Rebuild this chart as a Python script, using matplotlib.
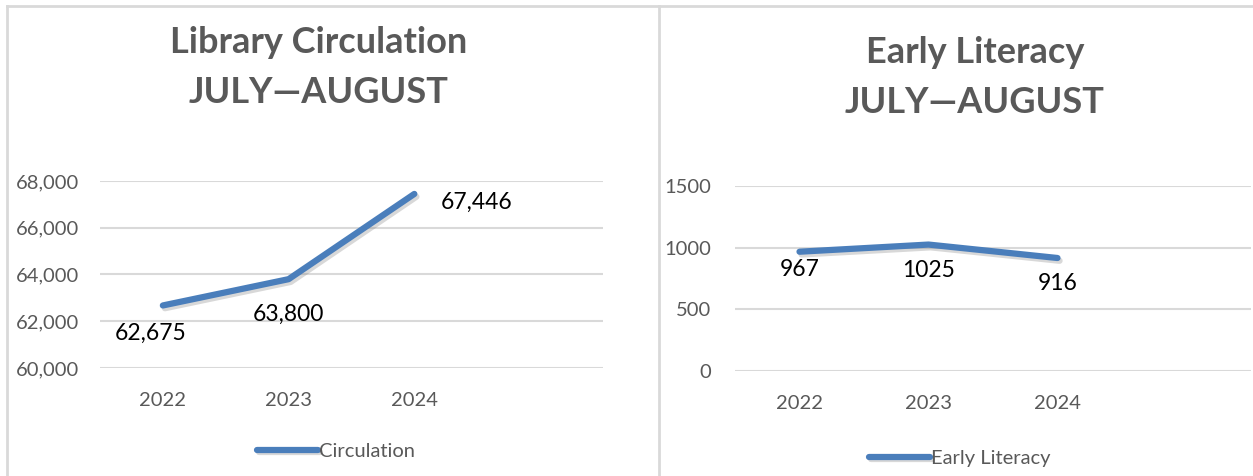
import matplotlib.pyplot as plt
import matplotlib.patheffects as pe
from matplotlib.lines import Line2D

# données
years = ["2022", "2023", "2024", ""]
circulation = [62675, 63800, 67446]
early_literacy = [967, 1025, 916]

circ_ticks = [60000, 62000, 64000, 66000, 68000]
lit_ticks = [0, 500, 1000, 1500]

plt.rcParams['font.family'] = ['Lato', 'DejaVu Sans']

BLUE = "#4a7ebb"
GRAY = "#595959"
GRID = "#d9d9d9"

fig = plt.figure(figsize=(12.53, 4.76), dpi=100)

# cadre gris clair
fig.add_artist(Line2D([0.0056, 1], [0.987, 0.987], color=GRID, lw=2))
fig.add_artist(Line2D([0.0056, 0.0056], [0, 0.987], color=GRID, lw=2))
fig.add_artist(Line2D([0.526, 0.526], [0, 0.987], color=GRID, lw=2))

ax1 = fig.add_axes([0.0798, 0.2269, 0.4014, 0.3929])
ax2 = fig.add_axes([0.5866, 0.2206, 0.4118, 0.3887])


def style_axis(ax, ticks, fmt, ypad):
    ax.set_xlim(-0.5, 3.5)
    ax.set_ylim(ticks[0], ticks[-1])
    ax.set_yticks(ticks)
    ax.set_yticklabels([fmt(t) for t in ticks])
    ax.set_xticks(range(4))
    ax.set_xticklabels(years)
    ax.grid(axis="y", color=GRID, lw=1.5)
    ax.set_axisbelow(True)
    for s in ax.spines.values():
        s.set_visible(False)
    ax.tick_params(length=0, labelsize=14.5, colors=GRAY)
    ax.tick_params(axis="y", pad=ypad)
    ax.tick_params(axis="x", pad=17)


def draw_line(ax, values, label):
    ln, = ax.plot(range(len(values)), values, color=BLUE, lw=4.5,
                  solid_capstyle="round", solid_joinstyle="round", label=label,
                  path_effects=[pe.SimpleLineShadow(offset=(1.5, -2), shadow_color="gray", alpha=0.3),
                                pe.Normal()])
    return ln


# Graphique 1 : circulation
style_axis(ax1, circ_ticks, lambda v: f"{v:,}", 15)
l1 = draw_line(ax1, circulation, "Circulation")
offsets1 = [(-9, -20), (0, -25), (45, -6)]
for i, v in enumerate(circulation):
    ax1.annotate(f"{v:,}", (i, v), xytext=offsets1[i], textcoords="offset points",
                 ha="center", va="center", fontsize=16.5, color="black")
fig.text(0.254, 0.91, "Library Circulation", ha="center", va="center",
         fontsize=26, fontweight="bold", color=GRAY)
fig.text(0.254, 0.805, "JULY\u2014AUGUST", ha="center", va="center",
         fontsize=26, fontweight="bold", color=GRAY)
fig.legend(handles=[l1], loc="center", bbox_to_anchor=(0.268, 0.0525), frameon=False,
           fontsize=14.5, labelcolor=GRAY, handlelength=3.0, handletextpad=0.05)

# Graphique 2 : éveil à la lecture
style_axis(ax2, lit_ticks, lambda v: str(v), 17)
l2 = draw_line(ax2, early_literacy, "Early Literacy")
offsets2 = [(0, -13), (0, -19), (0, -18)]
for i, v in enumerate(early_literacy):
    ax2.annotate(str(v), (i, v), xytext=offsets2[i], textcoords="offset points",
                 ha="center", va="center", fontsize=16.5, color="black")
fig.text(0.778, 0.889, "Early Literacy", ha="center", va="center",
         fontsize=26, fontweight="bold", color=GRAY)
fig.text(0.778, 0.784, "JULY\u2014AUGUST", ha="center", va="center",
         fontsize=26, fontweight="bold", color=GRAY)
fig.legend(handles=[l2], loc="center", bbox_to_anchor=(0.766, 0.0378), frameon=False,
           fontsize=14.5, labelcolor=GRAY, handlelength=3.0, handletextpad=0.05)

fig.savefig("out.png", dpi=100)
